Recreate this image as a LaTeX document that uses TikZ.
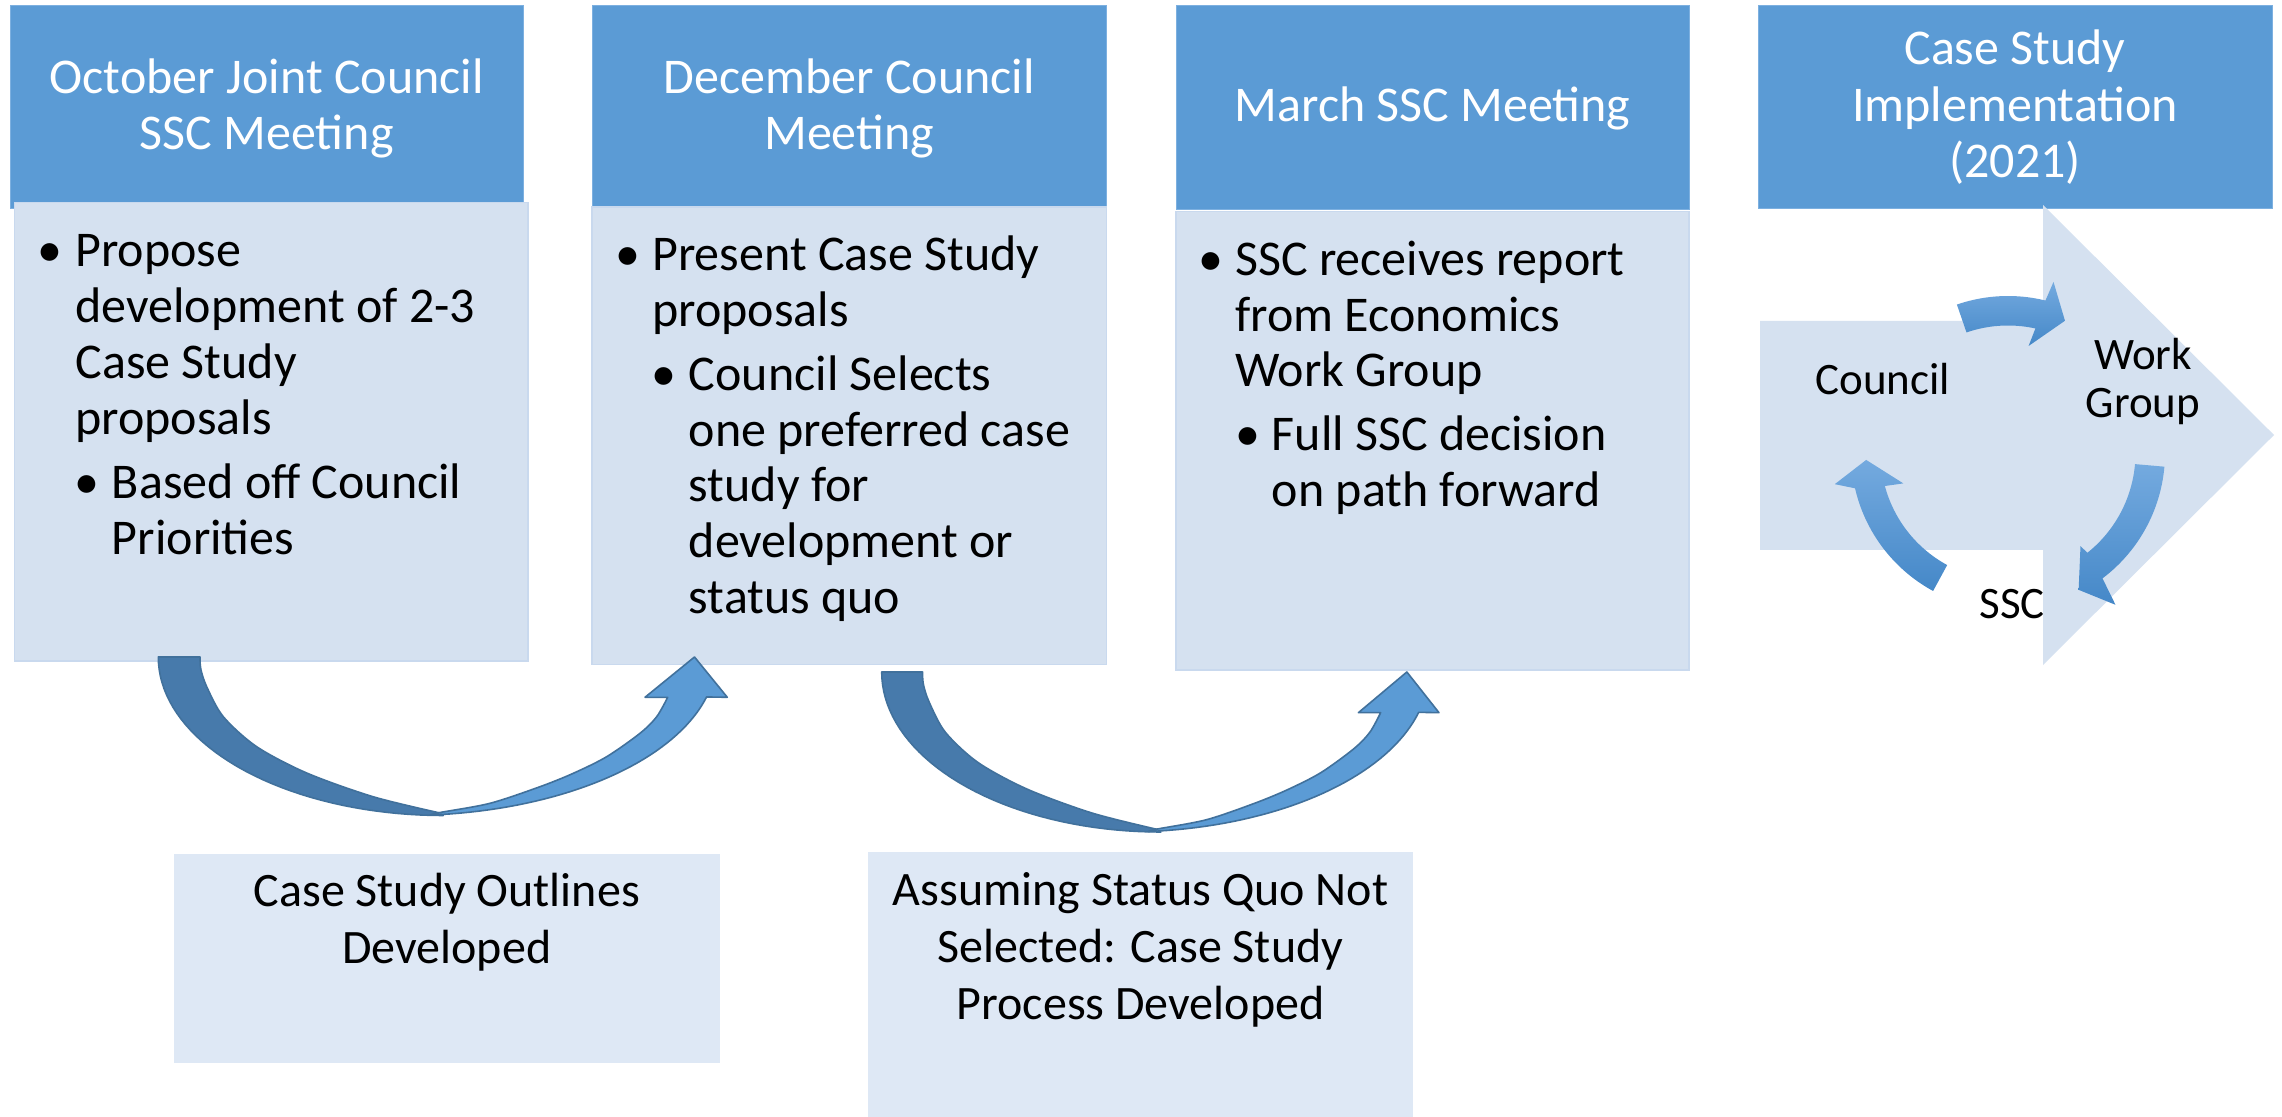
\documentclass[tikz,border=0pt]{standalone}
\usepackage{fontspec}
\setmainfont{Carlito}
\definecolor{hdrblue}{HTML}{5B9BD5}
\definecolor{hdredge}{HTML}{7DB0E0}
\definecolor{bodyblue}{HTML}{D5E1F0}
\definecolor{bodyedge}{HTML}{C9D9EE}
\definecolor{lowblue}{HTML}{DEE8F5}
\definecolor{arrdark}{HTML}{477AAB}
\definecolor{arrline}{HTML}{41719C}
\definecolor{cyctop}{HTML}{74AADF}
\definecolor{cycbot}{HTML}{4588C8}
\newcommand{\tlines}[2]{\begin{tabular}[t]{@{}#1@{}}#2\end{tabular}}
\newcommand{\boxat}[6]{\node[#2, anchor=north west, minimum width={(#5-#3)*0.5pt}, minimum height={(#6-#4)*0.5pt}] (#1) at (#3,#4) {};}
\newcommand{\uarrow}{%
 \path[arrowback] plot[variable=\t, domain=180:90, samples=40] ({284.7+285*cos(\t)},{158.5*sin(\t)})
   -- plot[smooth] coordinates {(281.4,156) (214.4,139.7) (148.1,116) (98.1,89.7) (64.7,59.7) (48.1,29.7) (42.2,12) (41.4,0)} -- cycle;
 \path[arrowfront] plot[variable=\t, domain=85.6:14.6, samples=40] ({248+310*cos(\t)},{158.5*sin(\t)})
   -- (568.7,40.3) -- (535.9,0) -- (486.4,40.3) -- (509.1,40.3)
   -- plot[smooth] coordinates {(509.1,40.3) (498.1,59.7) (481.4,76.3) (448.1,99.7) (414.7,116.3) (381.4,129.7) (331.4,146.3) (281.4,155.5) (272,157.8)} -- cycle;
}
\begin{document}
\begin{tikzpicture}[x=0.5pt,y=-0.5pt,
  hdrbox/.style={rectangle, inner sep=0pt, outer sep=0pt, fill=hdrblue, draw=hdredge, line width=0.4pt},
  bodybox/.style={rectangle, inner sep=0pt, outer sep=0pt, fill=bodyblue, draw=bodyedge, line width=0.6pt},
  lowbox/.style={rectangle, inner sep=0pt, outer sep=0pt, fill=lowblue, draw=none},
  hdrtext/.style={anchor=base, inner sep=0pt, text=white, font=\fontsize{25}{28.2}\selectfont},
  bodytext/.style={anchor=base west, inner sep=0pt, font=\fontsize{25}{27.9}\selectfont},
  bul/.style={anchor=base, inner sep=0pt, font=\fontsize{25}{28}\selectfont},
  lowtext/.style={anchor=base, inner sep=0pt, font=\fontsize{24}{28.5}\selectfont},
  cyctext/.style={anchor=base, inner sep=0pt, font=\fontsize{22.5}{24}\selectfont},
  arrowback/.style={fill=arrdark, draw=arrline, line width=0.8pt, line join=round},
  arrowfront/.style={fill=hdrblue, draw=arrline, line width=0.8pt, line join=round},
  cycarrow/.style={top color=cyctop, bottom color=cycbot, draw=none},
  bigarrow/.style={fill=bodyblue, draw=none}
]
\useasboundingbox (0,0) rectangle (2282,1117);
\fill[white] (0,0) rectangle (2282,1117);

% headers
\boxat{h1}{hdrbox}{10}{5.6}{523.5}{208}
\boxat{h2}{hdrbox}{592}{5.6}{1106.5}{207}
\boxat{h3}{hdrbox}{1176}{5.6}{1689}{209.5}
\boxat{h4}{hdrbox}{1758}{5}{2272}{208}
% bodies
\boxat{b1}{bodybox}{14.5}{202.5}{528}{661}
\boxat{b2}{bodybox}{592}{207}{1106.5}{664.5}
\boxat{b3}{bodybox}{1176}{211.6}{1689}{670}
% lower boxes
\boxat{lA}{lowbox}{174}{854}{719.5}{1063}
\boxat{lB}{lowbox}{868}{852}{1413}{1117}

% header texts
\node[hdrtext] (h1t) at (266.7,93.2) {\tlines{c}{October Joint Council\\SSC Meeting}};
\node[hdrtext] (h2t) at (849.2,93.2) {\tlines{c}{December Council\\Meeting}};
\node[hdrtext] (h3t) at (1432.5,121.4) {March SSC Meeting};
\node[hdrtext] (h4t) at (2015,65) {\tlines{c}{Case Study\\Implementation\\(2021)}};

% body 1
\node[bul] (b1u1) at (50,266.7) {•};
\node[bodytext] (b1x1) at (75.1,266.7) {\tlines{l}{Propose\\development of 2-3\\Case Study\\proposals}};
\node[bul] (b1u2) at (86.5,498.7) {•};
\node[bodytext] (b1x2) at (111.5,498.7) {\tlines{l}{Based off Council\\Priorities}};
% body 2
\node[bul] (b2u1) at (627.5,271) {•};
\node[bodytext] (b2x1) at (651.8,271) {\tlines{l}{Present Case Study\\proposals}};
\node[bul] (b2u2) at (664,390.3) {•};
\node[bodytext] (b2x2) at (688.5,390.3) {\tlines{l}{Council Selects\\one preferred case\\study for\\development or\\status quo}};
% body 3
\node[bul] (b3u1) at (1211,275.4) {•};
\node[bodytext] (b3x1) at (1234.8,275.4) {\tlines{l}{SSC receives report\\from Economics\\Work Group}};
\node[bul] (b3u2) at (1248,451) {•};
\node[bodytext] (b3x2) at (1271.5,451) {\tlines{l}{Full SSC decision\\on path forward}};

% lower texts
\node[lowtext] (lAt) at (446.8,906.7) {\tlines{c}{Case Study Outlines\\Developed}};
\node[lowtext] (lBt) at (1140.5,905.7) {\tlines{c}{Assuming Status Quo Not\\Selected: Case Study\\Process Developed}};

% curved U arrows
\begin{scope}[shift={(158.6,657)}]
\uarrow
\end{scope}
\begin{scope}[shift={(882,672)}, xscale=0.9794, yscale=1.0095]
\uarrow
\end{scope}

% right panel
\node[cyctext] (ssc) at (2012,618) {SSC};
\path[bigarrow] (1760,321) -- (2043,321) -- (2043,205) -- (2274,435) -- (2043,665) -- (2043,550) -- (1760,550) -- cycle;
\begin{scope}[shift={(2008,453)}]
\path[cycarrow] (-109:157) -- plot[variable=\t, domain=-109:-76.2, samples=30] (\t:157) -- (-75.1:177) -- (-66.7:144) -- (-79.1:109) -- (-77.6:127.5) -- plot[variable=\t, domain=-77.6:-109, samples=30] (\t:127.5) -- cycle;
\path[cycarrow] (5:157) -- plot[variable=\t, domain=5:53, samples=30] (\t:157) -- (54.7:186) -- (62.7:154) -- (52.1:118) -- (51.5:127.5) -- plot[variable=\t, domain=51.5:5, samples=30] (\t:127.5) -- cycle;
\path[cycarrow] (118.5:157) -- plot[variable=\t, domain=118.5:167, samples=30] (\t:157) -- (169.8:176) -- (177.2:142) -- (163.8:109) -- (165:127.5) -- plot[variable=\t, domain=165:118.5, samples=30] (\t:127.5) -- cycle;
\end{scope}
\node[cyctext] (council) at (1883,395) {Council};
\node[cyctext] (wg) at (2143,370) {\tlines{c}{Work\\Group}};
\end{tikzpicture}
\end{document}
